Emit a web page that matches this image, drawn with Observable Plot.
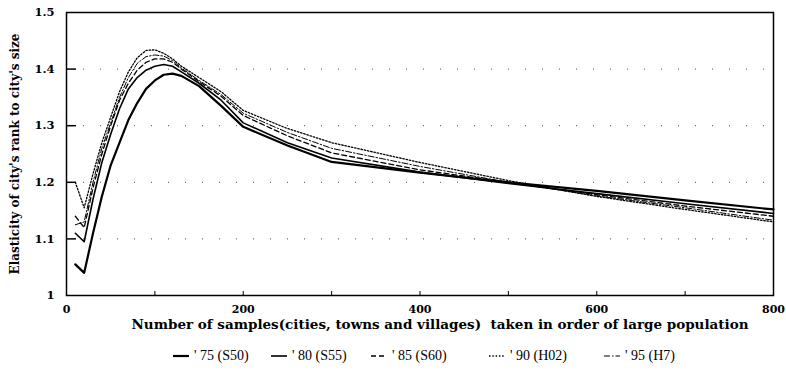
<!DOCTYPE html>
<html>
<head>
<meta charset="utf-8">
<script src="https://cdn.jsdelivr.net/npm/d3@7"></script>
<script src="https://cdn.jsdelivr.net/npm/@observablehq/plot@0.6"></script>
<style>
  body { margin: 0; background: #fff; }
  #legend { font-family: "Liberation Serif", serif; font-size: 14px; color: #000; height: 31px; position: relative; }
  #legend .item { position: absolute; display: flex; align-items: center; top: 8px; }
  #legend svg { margin-right: 4px; }
</style>
</head>
<body>
<div id="chart"></div>
<div id="legend"></div>
<script>
const seriesNames = ["' 75 (S50)", "' 80 (S55)", "' 85 (S60)", "' 90 (H02)", "' 95 (H7)"];
const xs = [10, 20, 30, 40, 50, 60, 70, 80, 90, 100, 110, 120, 130, 150, 175, 200, 250, 300, 400, 500, 600, 700, 800];
const y75 = [1.055, 1.040, 1.110, 1.175, 1.230, 1.270, 1.310, 1.340, 1.365, 1.380, 1.390, 1.392, 1.388, 1.370, 1.335, 1.298, 1.265, 1.236, 1.217, 1.200, 1.185, 1.168, 1.152];
const y80 = [1.110, 1.095, 1.170, 1.235, 1.285, 1.330, 1.365, 1.385, 1.398, 1.405, 1.408, 1.405, 1.395, 1.375, 1.345, 1.305, 1.270, 1.243, 1.218, 1.198, 1.180, 1.162, 1.145];
const y85 = [1.140, 1.120, 1.190, 1.250, 1.300, 1.345, 1.375, 1.398, 1.412, 1.418, 1.418, 1.412, 1.400, 1.378, 1.352, 1.318, 1.282, 1.252, 1.222, 1.200, 1.178, 1.158, 1.140];
const y90 = [1.200, 1.155, 1.215, 1.270, 1.315, 1.360, 1.395, 1.420, 1.433, 1.434, 1.428, 1.418, 1.405, 1.385, 1.360, 1.327, 1.295, 1.270, 1.235, 1.203, 1.175, 1.152, 1.130];
const y95 = [1.125, 1.130, 1.200, 1.260, 1.305, 1.350, 1.385, 1.410, 1.422, 1.425, 1.423, 1.415, 1.402, 1.380, 1.355, 1.322, 1.288, 1.260, 1.228, 1.200, 1.176, 1.155, 1.133];
const xTicks = [0, 200, 400, 600, 800];
const xMinorTicks = [100, 200, 300, 400, 500, 600, 700];
const yTicks = [1, 1.1, 1.2, 1.3, 1.4, 1.5];
const yTickLabels = ["1", "1.1", "1.2", "1.3", "1.4", "1.5"];
const xTitle = "Number of samples(cities, towns and villages)  taken in order of large population";
const yTitle = "Elasticity of city's rank to city's size";

const styles = [
  {strokeWidth: 2.2, dash: null},
  {strokeWidth: 1.6, dash: null},
  {strokeWidth: 1.3, dash: "5,3"},
  {strokeWidth: 1.3, dash: "1.5,1.8"},
  {strokeWidth: 1.0, dash: "6,2,1.5,2"}
];
const allY = [y75, y80, y85, y90, y95];
const data = [];
allY.forEach((ys, i) => ys.forEach((v, j) => data.push({series: seriesNames[i], x: xs[j], y: v})));

const font = "'DejaVu Serif', serif";
const marks = [
  Plot.gridY(yTicks.slice(1, -1), {stroke: "#000", strokeOpacity: 0.7, strokeDasharray: "1,16"}),
  Plot.axisY(yTicks, {tickSize: 0, tickPadding: 12, tickFormat: (d, i) => yTickLabels[i], fontSize: 11.5, fontWeight: "bold", label: null}),
  Plot.axisY(yTicks.slice(1, -1), {tickSize: -10, text: null, strokeWidth: 1.5, label: null}),
  Plot.axisX(xTicks, {tickSize: 0, tickPadding: 10, fontSize: 11, fontWeight: "bold", label: null}),
  Plot.axisX(xMinorTicks, {tickSize: -4, text: null, label: null}),
  Plot.frame({stroke: "#000", strokeWidth: 1.5}),
  ...allY.map((ys, i) => Plot.line(data.filter(d => d.series === seriesNames[i]), {
    x: "x", y: "y", stroke: "#000", strokeWidth: styles[i].strokeWidth,
    strokeDasharray: styles[i].dash, strokeLinejoin: "round"
  })),
  Plot.text([xTitle], {frameAnchor: "bottom", dy: 33, dx: 20, text: d => d, fontSize: 13.5, fontWeight: "bold", fontFamily: font}),
  Plot.text([yTitle], {frameAnchor: "left", textAnchor: "middle", dx: -51, rotate: -90, text: d => d, fontSize: 12, fontWeight: "bold", fontFamily: font})
];

const chart = Plot.plot({
  width: 786, height: 340,
  marginLeft: 66, marginRight: 13, marginTop: 12, marginBottom: 45,
  style: {fontFamily: font, color: "#000", background: "#fff"},
  x: {domain: [0, 800]},
  y: {domain: [1, 1.5]},
  marks
});
document.getElementById("chart").appendChild(chart);

const legend = document.getElementById("legend");
const lefts = [172, 270, 370, 488, 603];
seriesNames.forEach((name, i) => {
  const item = document.createElement("div");
  item.className = "item";
  item.style.left = lefts[i] + "px";
  const s = styles[i];
  item.innerHTML = `<svg width="18" height="10"><line x1="1" y1="5" x2="17" y2="5" stroke="#000" stroke-width="${s.strokeWidth}" ${s.dash ? `stroke-dasharray="${s.dash}"` : ""}/></svg><span>${name}</span>`;
  legend.appendChild(item);
});
</script>
</body>
</html>
